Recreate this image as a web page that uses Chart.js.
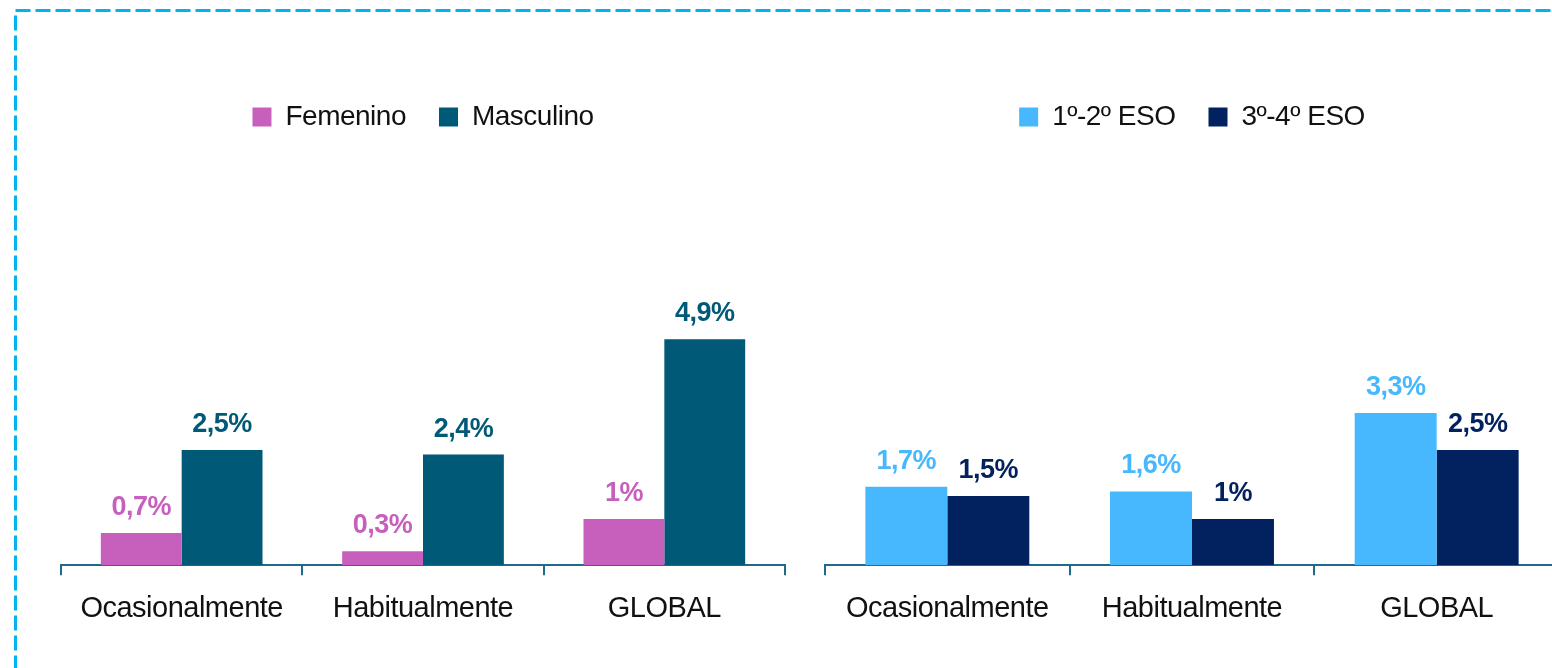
<!DOCTYPE html>
<html lang="es">
<head>
<meta charset="utf-8">
<title>Consumo por sexo y curso</title>
<script src="https://cdn.jsdelivr.net/npm/chart.js@4.4.1/dist/chart.umd.min.js"></script>
<style>
  html, body { margin: 0; padding: 0; background: #fff; overflow: hidden; }
  body { width: 1552px; height: 668px; position: relative; }
  #frame { position: absolute; left: 0; top: 0; }
  canvas { position: absolute; top: 0; }
  #cSexo { left: 0; }
  #cCurso { left: 805px; }
</style>
</head>
<body>
<svg id="frame" width="1552" height="668">
  <rect x="15.5" y="10.5" width="1600" height="700" fill="none"
        stroke="#00B4F0" stroke-width="3" stroke-dasharray="15 5"/>
</svg>
<canvas id="cSexo" width="805" height="668"></canvas>
<canvas id="cCurso" width="780" height="668"></canvas>
<script>
// Categorías y series
const categorias = ['Ocasionalmente', 'Habitualmente', 'GLOBAL'];
const femenino   = [0.7, 0.3, 1];
const masculino  = [2.5, 2.4, 4.9];
const eso12      = [1.7, 1.6, 3.3];
const eso34      = [1.5, 1, 2.5];

const FAMILY = "'Liberation Sans', Arial, sans-serif";
const SPACING = '-0.5px';

// Espaciado de letras para toda la tipografía del lienzo
const espaciado = {
  id: 'espaciado',
  beforeUpdate(chart) { chart.ctx.letterSpacing = SPACING; },
  beforeDraw(chart) { chart.ctx.letterSpacing = SPACING; }
};

// Etiquetas de valor encima de cada barra
const etiquetas = {
  id: 'etiquetas',
  afterDatasetsDraw(chart) {
    const ctx = chart.ctx;
    ctx.save();
    ctx.letterSpacing = SPACING;
    ctx.font = "bold 27px " + FAMILY;
    ctx.textAlign = 'center';
    ctx.textBaseline = 'alphabetic';
    chart.data.datasets.forEach((ds, i) => {
      const meta = chart.getDatasetMeta(i);
      ctx.fillStyle = ds.backgroundColor;
      meta.data.forEach((bar, j) => {
        const txt = String(ds.data[j]).replace('.', ',') + '%';
        ctx.fillText(txt, bar.x, bar.y - 18);
      });
    });
    ctx.restore();
  }
};

function crear(id, series, padLeft, padRight) {
  return new Chart(document.getElementById(id), {
    type: 'bar',
    data: {
      labels: categorias,
      datasets: series.map(s => ({
        label: s.nombre,
        data: s.datos,
        backgroundColor: s.color,
        borderWidth: 0,
        categoryPercentage: 0.67,
        barPercentage: 1
      }))
    },
    options: {
      responsive: false,
      animation: false,
      devicePixelRatio: 1,
      layout: { padding: { top: 70, bottom: 26, left: padLeft, right: padRight } },
      plugins: {
        tooltip: { enabled: false },
        legend: {
          position: 'top',
          labels: {
            boxWidth: 19,
            boxHeight: 19,
            padding: 33,
            color: '#111',
            font: { family: FAMILY, size: 28 }
          }
        }
      },
      scales: {
        x: {
          offset: true,
          border: { display: true, color: '#1F6A8A', width: 2 },
          grid: {
            offset: true,
            drawOnChartArea: false,
            drawTicks: true,
            tickLength: 10,
            color: '#1F6A8A',
            lineWidth: 2
          },
          ticks: {
            color: '#111',
            padding: 16,
            autoSkip: false,
            maxRotation: 0,
            minRotation: 0,
            font: { family: FAMILY, size: 29 }
          }
        },
        y: {
          display: false,
          min: 0,
          max: 9.2
        }
      }
    },
    plugins: [espaciado, etiquetas]
  });
}

crear('cSexo', [
  { nombre: 'Femenino',  datos: femenino,  color: '#C660BC' },
  { nombre: 'Masculino', datos: masculino, color: '#005A77' }
], 61, 20);

crear('cCurso', [
  { nombre: '1º-2º ESO', datos: eso12, color: '#47B8FE' },
  { nombre: '3º-4º ESO', datos: eso34, color: '#01215F' }
], 20, 26);
</script>
</body>
</html>
